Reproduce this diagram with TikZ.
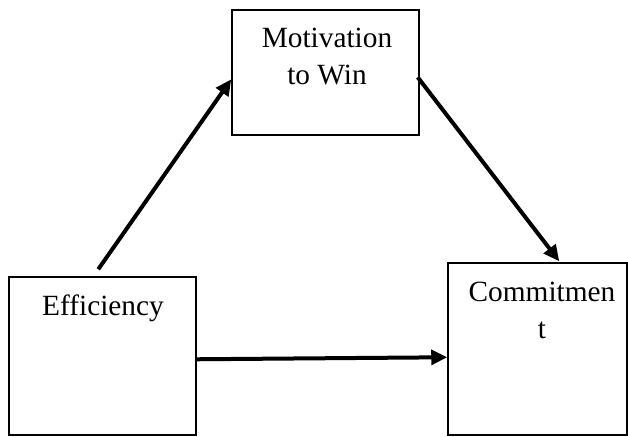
\documentclass[tikz,border=0pt]{standalone}
\usepackage{fontspec}
\setmainfont{Liberation Serif}
\usetikzlibrary{calc,arrows.meta}
\begin{document}
\begin{tikzpicture}[x=0.75pt,y=-0.75pt,
  box/.style={draw=black,line width=1.1pt,rectangle,inner sep=0pt},
  lbl/.style={inner sep=0pt,anchor=north,align=center,font=\fontsize{22}{27.5}\selectfont},
  conn/.style={line width=3pt,-{Triangle[length=12pt,width=11pt]}}]
\useasboundingbox (0,0) rectangle (628,436);
\node[box,minimum width={187*0.75pt},minimum height={125*0.75pt}] (mot) at (325.5,72.5) {};
\node[box,minimum width={187*0.75pt},minimum height={158*0.75pt}] (eff) at (102.5,356) {};
\node[box,minimum width={179*0.75pt},minimum height={172*0.75pt}] (com) at (537.5,349) {};
\node[lbl] (motl) at (327,28) {Motivation\\to Win};
\node[lbl] (effl) at (103,295) {Efficiency};
\node[lbl] (coml) at (542,282) {Commitmen\\t};
\draw[conn] ($(eff.north west)+(90,-7)$) -- ($(mot.north west)+(0,70)$);
\draw[conn] ($(mot.north east)+(-2,68)$) -- ($(com.north west)+(112,-1)$);
\draw[conn] ($(eff.north east)+(0,83)$) -- ($(com.north west)+(0,95)$);
\end{tikzpicture}
\end{document}
